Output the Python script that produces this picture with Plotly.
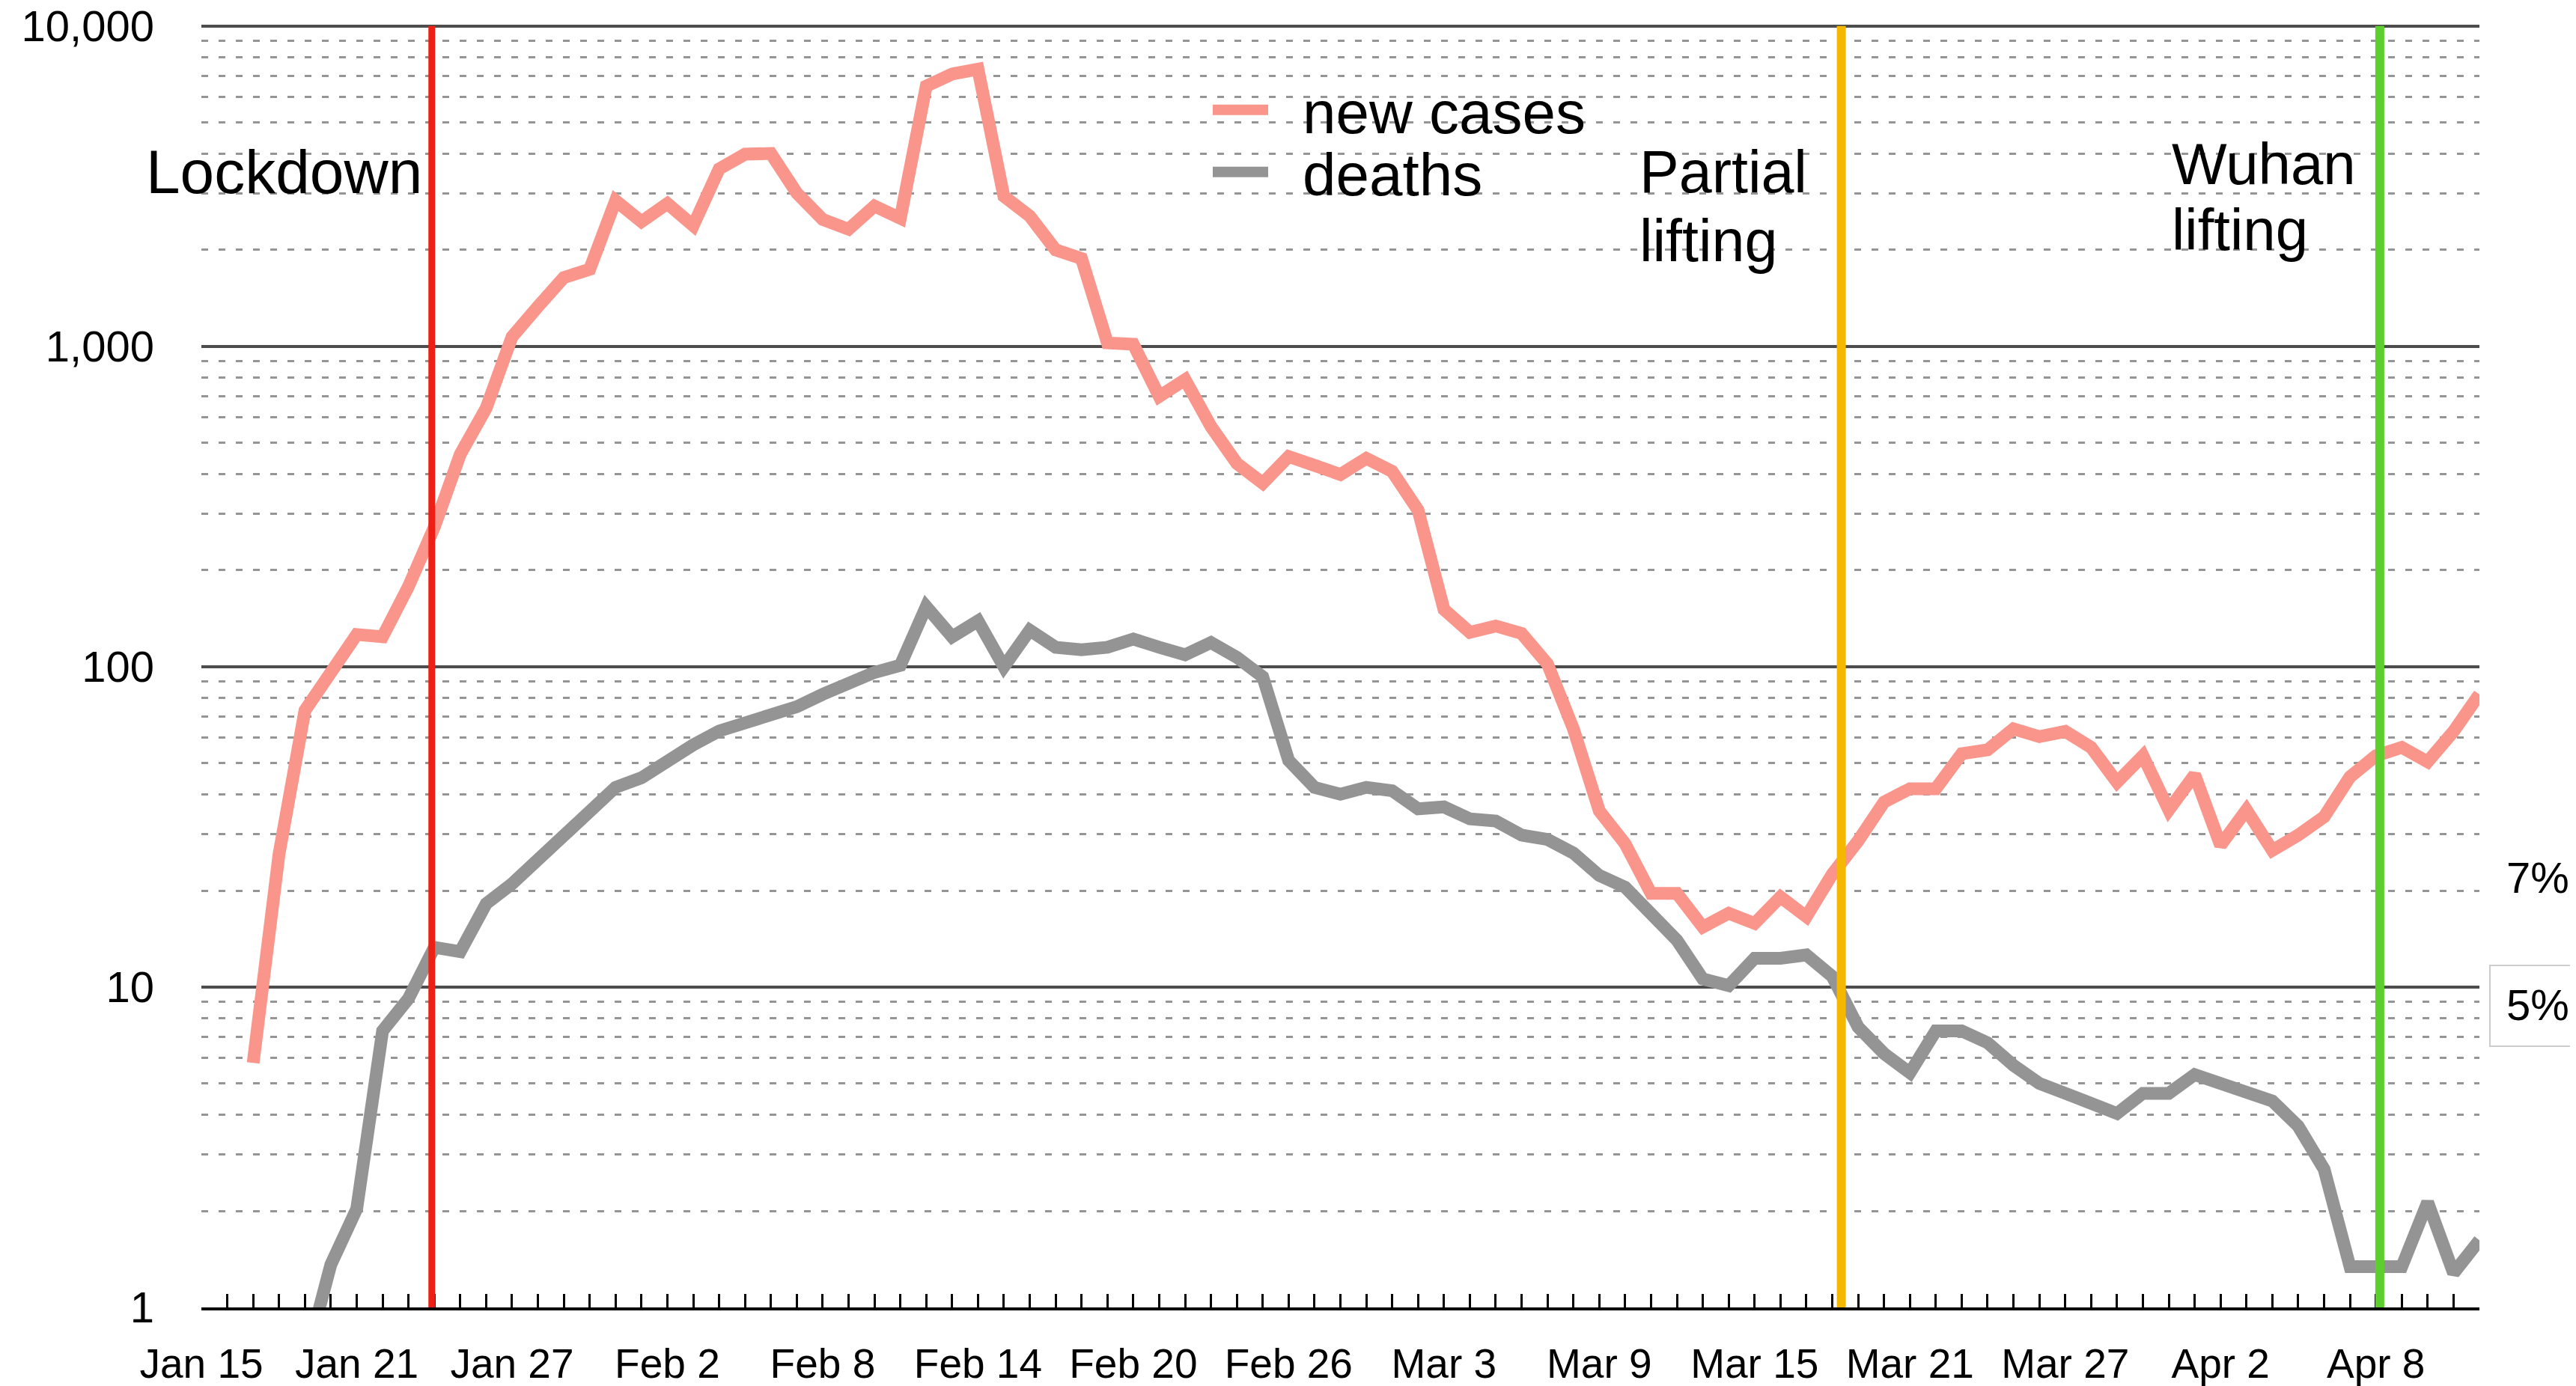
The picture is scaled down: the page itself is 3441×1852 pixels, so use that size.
import plotly.graph_objects as go

# ---------------- data ----------------
day_index = list(range(89))  # Jan 15 (0) ... Apr 12 (88)

new_cases = [None, None, 5.8, 26, 73, 97, 126, 124, 178, 273, 460, 641, 1070, 1330, 1640, 1740,
             2850, 2450, 2790, 2380, 3580, 3980, 4000, 3010, 2490, 2320, 2740, 2510, 6490, 7080,
             7330, 2940, 2550, 2000, 1880, 1025, 1015, 698, 787, 562, 431, 374, 453, 425, 398,
             447, 407, 308, 151, 128, 134, 127, 102, 64, 35.5, 28, 19.6, 19.6, 15.4, 17, 15.8,
             19.1, 16.6, 22.5, 28.6, 37.8, 41.6, 41.6, 53.5, 55, 64, 60.5, 62.8, 56, 43.6, 52.7,
             35.7, 46, 27.7, 35.7, 26.7, 29.8, 34, 45.3, 52.7, 56, 50.5, 62.8, 82]

deaths = [None, None, None, None, 0.67, 1.36, 2.03, 7.3, 9.2, 13.3, 12.9, 18.2, 21, 24.9, 29.5,
          35, 42, 45, 51, 57, 63, 67, 71, 75, 82, 89, 96, 101, 154, 124, 139, 100, 130, 115, 113,
          115, 122, 115, 109, 119, 107, 93, 51, 42, 40, 42, 41, 36, 36.5, 33.5, 33, 29.8, 28.9,
          26.2, 22.3, 20.5, 17.2, 14, 10.6, 10.1, 12.3, 12.3, 12.6, 10.8, 7.5, 6.2, 5.4, 7.3, 7.3,
          6.7, 5.7, 5.0, 4.66, 4.28, 4.03, 4.66, 4.66, 5.33, 5.0, 4.75, 4.41, 3.68, 2.7, 1.34,
          1.34, 1.34, 2.13, 1.28, 1.62]

x_tick_positions = [0, 6, 12, 18, 24, 30, 36, 42, 48, 54, 60, 66, 72, 78, 84]
x_tick_labels = ["Jan 15", "Jan 21", "Jan 27", "Feb 2", "Feb 8", "Feb 14", "Feb 20", "Feb 26",
                 "Mar 3", "Mar 9", "Mar 15", "Mar 21", "Mar 27", "Apr 2", "Apr 8"]

y_tick_values = [1, 10, 100, 1000, 10000]
y_tick_labels = ["1", "10", "100", "1,000", "10,000"]

event_names = ["Lockdown", "Partial lifting", "Wuhan lifting"]
event_days = [8.9, 63.35, 84.15]
event_colors = ["#ee2016", "#f5b700", "#5ccf2e"]
event_widths = [9, 12, 12]

series_names = ["new cases", "deaths"]
series_colors = ["#fa958b", "#949494"]

# ---------------- layout helpers (screen pixel coords) ----------------
W, H = 3441, 1852
BODY = 8                       # default page body margin
Y_TOP = 4.004                  # a hair above 10,000 so its grid line shows
PL, PR = 269, 3312             # screen x of plot left / right
PB = 1747                      # screen y of the "1" line
DEC = 428                      # pixels per decade
PT = PB - DEC * Y_TOP          # screen y of plot top


def px_x(x):
    return (x - PL) / (PR - PL)


def px_y(y):
    return (PB - y) / (PB - PT)


FONT = "Liberation Sans, Arial, Helvetica, sans-serif"

fig = go.Figure()
for name, vals, col in zip(series_names, [new_cases, deaths], series_colors):
    fig.add_trace(go.Scatter(x=day_index, y=vals, mode="lines", name=name,
                             line=dict(color=col, width=17), connectgaps=False,
                             showlegend=False))

minor_vals = []
for dec in [1, 10, 100, 1000]:
    minor_vals += [dec * k for k in range(2, 10)]

shapes = []
for d, c, w in zip(event_days, event_colors, event_widths):
    shapes.append(dict(type="line", xref="x", yref="paper", x0=d, x1=d,
                       y0=0, y1=px_y(35), line=dict(color=c, width=w), layer="above"))

# manual legend swatches
for row_y, col in zip([147, 230], series_colors):
    shapes.append(dict(type="line", xref="paper", yref="paper",
                       x0=px_x(1620), x1=px_x(1694), y0=px_y(row_y), y1=px_y(row_y),
                       line=dict(color=col, width=14), layer="above"))

# "5%" box
shapes.append(dict(type="rect", xref="paper", yref="paper",
                   x0=px_x(3326), x1=px_x(3440), y0=px_y(1398), y1=px_y(1290),
                   line=dict(color="#cccccc", width=2), fillcolor="white", layer="above"))

annotations = []


def txt(text, x, y, anchor="left", size=78):
    annotations.append(dict(text=text, xref="paper", yref="paper", x=px_x(x), y=px_y(y),
                            xanchor=anchor, yanchor="middle", showarrow=False,
                            font=dict(family=FONT, size=size, color="black")))


txt("Lockdown", 566, 230, anchor="right", size=82)
txt("Partial", 2188, 230, size=79)
txt("lifting", 2188, 322, size=79)
txt("Wuhan", 2899, 219)
txt("lifting", 2899, 307)
for row_y, name in zip([151, 234], series_names):
    txt(name, 1738, row_y, size=80)
txt("7%", 3346, 1173, size=58)
txt("5%", 3346, 1343, size=58)

fig.update_layout(
    width=W, height=H,
    margin=dict(l=PL - BODY, r=W - (PR - BODY), t=PT - BODY, b=H - (PB - BODY), pad=0,
                autoexpand=False),
    paper_bgcolor="white", plot_bgcolor="white",
    font=dict(family=FONT, color="black"),
    shapes=shapes, annotations=annotations,
    showlegend=False,
    xaxis=dict(range=[0, 88], tickmode="array", tickvals=x_tick_positions,
               ticktext=x_tick_labels, ticks="inside", ticklen=18, tickwidth=3,
               tickcolor="black", showline=True, linecolor="black", linewidth=4,
               showgrid=False, zeroline=False, tickfont=dict(size=55, color="black"),
               ticklabelstandoff=24, automargin=False, ticklabeloverflow="allow",
               minor=dict(dtick=1, tick0=0, ticks="inside", ticklen=18, tickwidth=3,
                          tickcolor="black", showgrid=False)),
    yaxis=dict(type="log", range=[0, Y_TOP], tickmode="array", tickvals=y_tick_values,
               ticktext=y_tick_labels, ticks="", showline=False, zeroline=False,
               showgrid=True, gridcolor="#4d4d4d", gridwidth=4,
               tickfont=dict(size=58, color="black"), ticklabelstandoff=62, automargin=False,
               ticklabeloverflow="allow",
               minor=dict(tickmode="array", tickvals=minor_vals, showgrid=True,
                          gridcolor="#959595", gridwidth=3, griddash="9px,14px", ticks="")),
)

fig.write_html("out.html")
